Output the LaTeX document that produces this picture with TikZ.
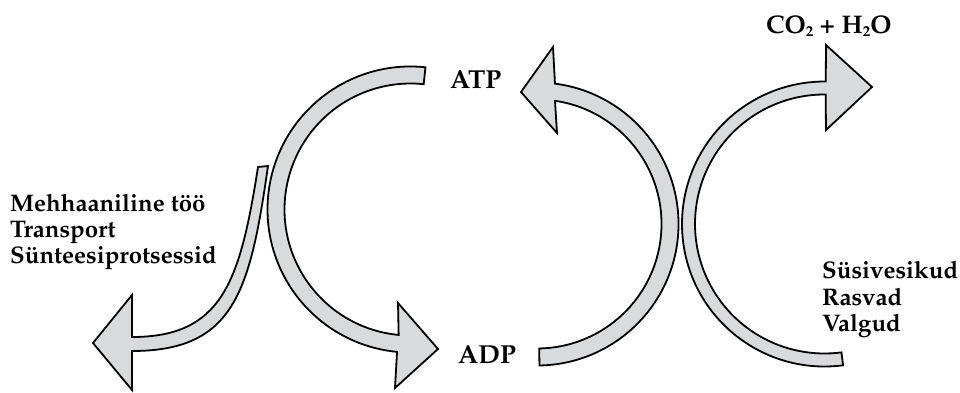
\documentclass[tikz,border=0pt]{standalone}
\usepackage[T1]{fontenc}
\usepackage{mathpazo}
\usetikzlibrary{calc}
\definecolor{bandgray}{RGB}{217,218,220}
\newcommand{\lowsub}[1]{\raisebox{-0.32ex}{\fontsize{15}{15}\selectfont #1}}
\tikzset{
  band/.style={fill=bandgray, draw=black, line width=1.8pt, line join=miter},
  lbl/.style={font=\fontsize{24}{27}\selectfont\bfseries, inner sep=0pt},
  big/.style={font=\fontsize{26}{30}\selectfont\bfseries, inner sep=0pt},
  formula/.style={font=\fontsize{25.5}{30}\selectfont\bfseries, inner sep=0pt},
}
\begin{document}
\begin{tikzpicture}[x=1pt,y=1pt]
\useasboundingbox (0,0) rectangle (960,392);
% centres of the three large arcs
\coordinate (c1) at (410.5,182.5);
\coordinate (c3) at (537,168);
\coordinate (c4) at (824.5,168);
% small branch (to the left)
\draw[band] (258,225) .. controls (240,110) and (222,55) .. (132,55)
  -- (132,97) -- (93,49) -- (132,2) -- (132,41)
  .. controls (234,41) and (250,100) .. (268,226) -- cycle;
% ATP -> ADP
\draw[band] ($(c1)+(84:143)$) arc[start angle=84, end angle=264.6, radius=143]
  -- (395,4) -- (438,43) -- (398,89)
  -- ($(c1)+(264.6:126)$) arc[start angle=264.6, end angle=84, radius=126] -- cycle;
% ADP -> ATP
\draw[band] ($(c3)+(-89:141.5)$) arc[start angle=-89, end angle=82.7, radius=141.5]
  -- (553,345) -- (521,300) -- (557,259)
  -- ($(c3)+(81.7:124.5)$) arc[start angle=81.7, end angle=-89, radius=124.5] -- cycle;
% nutrients -> CO2 + H2O
\draw[band] ($(c4)+(277.5:142.5)$) arc[start angle=277.5, end angle=89.5, radius=142.5]
  -- (826,347) -- (872,305) -- (826,262)
  -- ($(c4)+(89.5:129.5)$) arc[start angle=89.5, end angle=277.5, radius=129.5] -- cycle;
% labels
\node[big, anchor=base west] (atp) at (450,304) {ATP};
\node[big, anchor=base west] (adp) at (458,29) {ADP};
\node[formula, anchor=base west] (co2) at (766,359)
  {CO\lowsub{2} + H\lowsub{2}O};
\node[lbl, anchor=base west] (w1) at (10,181) {Mehhaaniline töö};
\node[lbl, anchor=base west] (w2) at (10,155) {Transport};
\node[lbl, anchor=base west] (w3) at (10,129) {Sünteesiprotsessid};
\node[lbl, anchor=base west] (n1) at (822,114) {Süsivesikud};
\node[lbl, anchor=base west] (n2) at (822,87) {Rasvad};
\node[lbl, anchor=base west] (n3) at (822,61) {Valgud};
\end{tikzpicture}
\end{document}
